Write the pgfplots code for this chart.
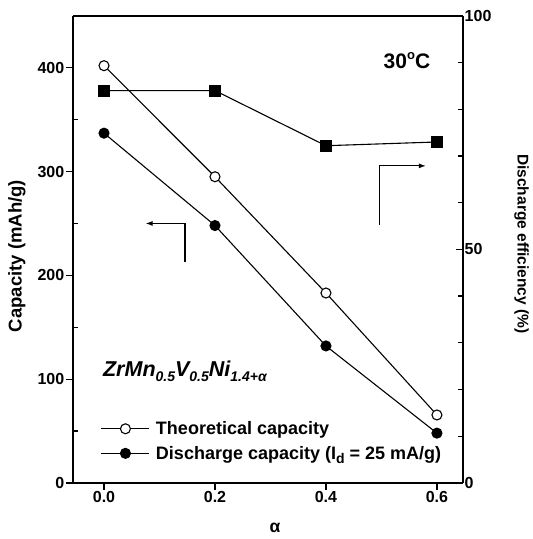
\documentclass[border=0pt]{standalone}
\usepackage{fontspec}
\setmainfont{Liberation Sans}
\usepackage{pgfplots}
\pgfplotsset{compat=1.18}
\usetikzlibrary{arrows.meta}

\newcommand{\tck}{\bfseries\fontsize{16}{18}\selectfont}
\newcommand{\leg}{\bfseries\fontsize{18}{20}\selectfont}
\newcommand{\sub}[1]{\raisebox{-0.45ex}{\fontsize{14}{14}\selectfont #1}}

\begin{document}
\begin{tikzpicture}
\pgfplotsset{
  every axis/.append style={
    scale only axis, width=390pt, height=467pt,
    xmin=-0.056, xmax=0.647,
    axis line style={line width=1.8pt},
    tick style={line width=1.3pt, black},
    major tick length=7pt, minor tick length=5pt,
    tick label style={font=\tck, inner sep=1.5pt},
    /pgf/number format/assume math mode=true,
  },
}
% capacity (left axis)
\begin{axis}[
  axis y line*=left, axis x line*=bottom,
  ymin=0, ymax=450,
  ytick={0,100,200,300,400}, minor ytick={50,150,250,350},
  xtick={0,0.2,0.4,0.6},
  xticklabel style={/pgf/number format/.cd,fixed,fixed zerofill,precision=1},
  tick align=outside,
  every minor tick/.append style={xshift=5pt},
  ylabel={Capacity (mAh/g)},
  ylabel style={at={(axis description cs:-0.144,0.486)}, anchor=center,
    font=\bfseries\fontsize{18.5}{20}\selectfont},
  xlabel={α},
  xlabel style={at={(axis description cs:0.518,-0.096)}, anchor=center,
    font=\bfseries\fontsize{17.5}{19}\selectfont},
  clip=false,
  legend cell align=left,
  legend style={at={(axis cs:-0.006,61.3)}, anchor=north west, draw=none, fill=none,
    inner sep=0pt, font=\leg, row sep=6pt, column sep=4pt},
  legend image code/.code={\draw[mark repeat=2,mark phase=2,#1] plot coordinates {(0pt,0pt)(24pt,0pt)(48pt,0pt)};},
]
\addplot[black, line width=1.1pt, mark=*, mark size=5pt, mark options={fill=white}]
  coordinates {(0,402)(0.2,295)(0.4,183)(0.6,65.5)};
\addlegendentry{Theoretical capacity}
\addplot[black, line width=1.1pt, mark=*, mark size=5pt]
  coordinates {(0,337)(0.2,248)(0.4,132)(0.6,48)};
\addlegendentry{Discharge capacity (I\sub{d} = 25 mA/g)}

\draw[line width=1.1pt, -{Latex[length=7pt,width=5pt]}] (axis cs:0.146,213) -- (axis cs:0.146,250) -- (axis cs:0.075,250);
\draw[line width=1.1pt, -{Latex[length=7pt,width=5pt]}] (axis cs:0.497,249) -- (axis cs:0.497,305.5) -- (axis cs:0.580,305.5);

\node[font=\bfseries\fontsize{21}{21}\selectfont] at (axis cs:0.546,407) {30\raisebox{0.75ex}{\fontsize{13}{13}\selectfont o}C};
\node[anchor=west, inner sep=0pt, font=\bfseries\itshape\fontsize{21.5}{21.5}\selectfont] at (axis cs:-0.002,108)
  {ZrMn\sub{0.5}V\sub{0.5}Ni\sub{1.4+α}};

\path (axis description cs:-0.187,-0.12) rectangle (axis description cs:1.167,1.034);
\end{axis}
% discharge efficiency (right axis)
\begin{axis}[
  axis y line*=right, axis x line*=top,
  xtick=\empty,
  ymin=0, ymax=100,
  ytick={0,50,100}, minor ytick={10,20,30,40,60,70,80,90},
  tick align=inside,
  ylabel={Discharge efficiency (\%)},
  ylabel style={at={(axis description cs:1.15,0.512)}, anchor=center, rotate=180,
    font=\bfseries\fontsize{15.5}{17}\selectfont},
]
\addplot[black, line width=1.1pt, mark=square*, mark size=5.5pt]
  coordinates {(0,84)(0.2,84)(0.4,72.2)(0.6,73)};
\end{axis}
\end{tikzpicture}
\end{document}
